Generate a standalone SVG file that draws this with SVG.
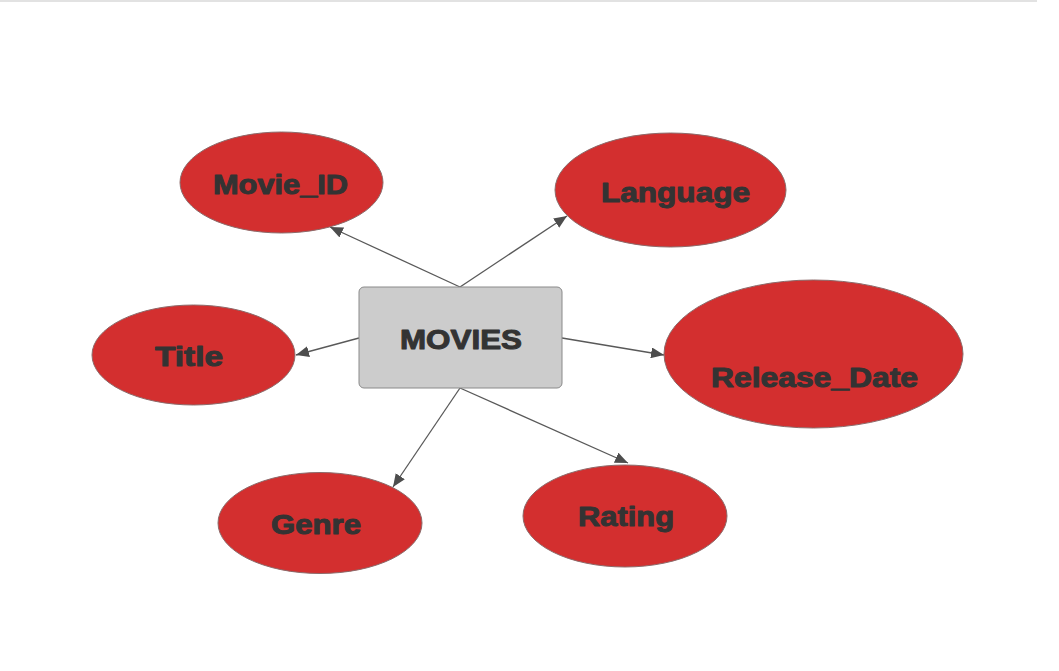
<svg xmlns="http://www.w3.org/2000/svg" width="1059" height="671" viewBox="0 0 1059 671">
<defs>
<style>
.attr ellipse{fill:#d32f2f;stroke:#8c6a6a;stroke-width:1}
.lbl{font-family:"Liberation Sans",Arial,sans-serif;font-weight:bold;font-size:27px;fill:#333333;stroke:#333333;stroke-width:1;stroke-linejoin:round;text-anchor:middle}
.conn path{stroke:#595959;stroke-width:1.3;fill:none;marker-end:url(#arr)}
</style>
<marker id="arr" viewBox="0 0 13 11" refX="13" refY="5.5" markerWidth="13" markerHeight="11" markerUnits="userSpaceOnUse" orient="auto">
<path d="M0,0 L13,5.5 L0,11 Z" fill="#4d4d4d"/>
</marker>
</defs>
<rect x="0" y="0" width="1059" height="671" fill="#ffffff"/>
<line x1="0" y1="1" x2="1037" y2="1" stroke="#e2e2e2" stroke-width="2"/>
<g class="conn" id="connectors">
<path d="M460,287 L330,227"/>
<path d="M460,287 L567,216"/>
<path d="M359,338 L296,355"/>
<path d="M562,338 L664,355"/>
<path d="M460,388 L393,487"/>
<path d="M460,388 L628,463"/>
</g>
<g id="movies">
<rect x="359" y="287" width="203" height="101" rx="5" ry="5" fill="#cccccc" stroke="#8a8a8a" stroke-width="1"/>
<text class="lbl" x="461" y="349" textLength="122" lengthAdjust="spacingAndGlyphs">MOVIES</text>
</g>
<g id="movie_id" class="attr">
<ellipse cx="281.5" cy="182.5" rx="101.5" ry="50.5"/>
<text class="lbl" x="280.5" y="194" textLength="135" lengthAdjust="spacingAndGlyphs">Movie_ID</text>
</g>
<g id="language" class="attr">
<ellipse cx="670.5" cy="190" rx="115.5" ry="57"/>
<text class="lbl" x="675.5" y="202" textLength="149" lengthAdjust="spacingAndGlyphs">Language</text>
</g>
<g id="title" class="attr">
<ellipse cx="193.5" cy="355" rx="101.5" ry="50"/>
<text class="lbl" x="189" y="366" textLength="68" lengthAdjust="spacingAndGlyphs">Title</text>
</g>
<g id="release_date" class="attr">
<ellipse cx="813.5" cy="354" rx="149.5" ry="74"/>
<text class="lbl" x="814.5" y="387" textLength="207" lengthAdjust="spacingAndGlyphs">Release_Date</text>
</g>
<g id="genre" class="attr">
<ellipse cx="320" cy="523" rx="102" ry="50.5"/>
<text class="lbl" x="316" y="534" textLength="90" lengthAdjust="spacingAndGlyphs">Genre</text>
</g>
<g id="rating" class="attr">
<ellipse cx="625" cy="516" rx="102" ry="51"/>
<text class="lbl" x="626" y="526" textLength="96" lengthAdjust="spacingAndGlyphs">Rating</text>
</g>
</svg>
